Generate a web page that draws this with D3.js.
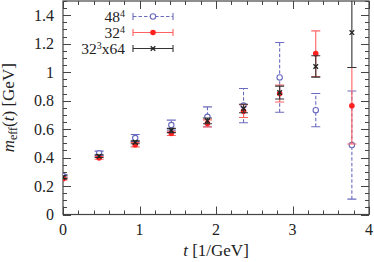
<!DOCTYPE html>
<html>
<head>
<meta charset="utf-8">
<script src="https://cdn.jsdelivr.net/npm/d3@7"></script>
<style>
  body { margin: 0; background: #fff; }
  svg text { font-family: "Liberation Serif", "DejaVu Serif", serif; fill: #222; }
</style>
</head>
<body>
<svg id="chart" width="374" height="262"></svg>
<script>
// data
const tVals = [0, 0.472, 0.944, 1.416, 1.888, 2.36, 2.832, 3.304, 3.776];

const v48 = [0.27, 0.43, 0.537, 0.628, 0.686, 0.765, 0.963, 0.733, 0.488];
const e48 = [0.01, 0.015, 0.025, 0.035, 0.07, 0.12, 0.245, 0.117, 0.38];

const v32 = [0.252, 0.398, 0.49, 0.57, 0.64, 0.726, 0.85, 1.13, 0.764];
const e32 = [0.01, 0.01, 0.015, 0.015, 0.025, 0.045, 0.06, 0.16, 0.269];

const v3264 = [0.262, 0.41, 0.507, 0.59, 0.658, 0.745, 0.857, 1.04, 1.278];
const e3264 = [0.01, 0.01, 0.01, 0.015, 0.02, 0.03, 0.045, 0.075, 0.245];

const xTicks = [0, 1, 2, 3, 4];
const yTicks = [0, 0.2, 0.4, 0.6, 0.8, 1, 1.2, 1.4];

const width = 374;
const height = 262;
const margin = { top: 1, right: 5, bottom: 47.5, left: 63 };

const svg = d3.select("#chart");

const x = d3.scaleLinear().domain([0, 4]).range([margin.left, width - margin.right]);
const y = d3.scaleLinear().domain([0, 1.5]).range([height - margin.bottom, margin.top]);

const series = [
  { name: "48", sup: "4", vals: v48, errs: e48, color: "#6b6bbf", dash: "3.5,2", marker: "open" },
  { name: "32", sup: "4", vals: v32, errs: e32, color: "#ff2020", bar: "#ff6060", dash: null, marker: "dot" },
  { name: "32", sup: "3", tail: "x64", vals: v3264, errs: e3264, color: "#222", bar: "#333", dash: null, marker: "cross" }
];

svg.append("clipPath").attr("id", "clip")
  .append("rect")
  .attr("x", margin.left).attr("y", margin.top)
  .attr("width", width - margin.left - margin.right)
  .attr("height", height - margin.top - margin.bottom);

// ticks (all four sides, inward)
const axisColor = "#444";
const gAx = svg.append("g").attr("stroke", axisColor).attr("stroke-width", 1);
const xMinor = d3.range(0, 4.001, 0.2);
const yMinor = d3.range(0, 1.5001, 0.05);
xMinor.forEach(v => {
  const major = Math.abs(v - Math.round(v)) < 1e-6;
  const len = major ? 8 : 4;
  const px = Math.round(x(v)) + 0.5;
  gAx.append("line").attr("x1", px).attr("x2", px).attr("y1", y(0)).attr("y2", y(0) - len);
  gAx.append("line").attr("x1", px).attr("x2", px).attr("y1", y(1.5)).attr("y2", y(1.5) + len);
});
yMinor.forEach(v => {
  const major = Math.abs(v * 5 - Math.round(v * 5)) < 1e-6;
  const len = major ? 8 : 4;
  const py = Math.round(y(v)) + 0.5;
  gAx.append("line").attr("x1", x(0)).attr("x2", x(0) + len).attr("y1", py).attr("y2", py);
  gAx.append("line").attr("x1", x(4)).attr("x2", x(4) - len).attr("y1", py).attr("y2", py);
});
svg.append("rect")
  .attr("x", x(0)).attr("y", y(1.5))
  .attr("width", x(4) - x(0)).attr("height", y(0) - y(1.5))
  .attr("fill", "none").attr("stroke", axisColor).attr("stroke-width", 1.2);

// tick labels
svg.append("g").selectAll("text").data(xTicks).join("text")
  .attr("x", d => x(d)).attr("y", 235)
  .attr("text-anchor", "middle").attr("font-size", 16)
  .text(d => d);
svg.append("g").selectAll("text").data(yTicks).join("text")
  .attr("x", 54).attr("y", d => y(d) + 5.5)
  .attr("text-anchor", "end").attr("font-size", 16)
  .text(d => d);

// axis titles
const xt = svg.append("text").attr("x", (x(0) + x(4)) / 2).attr("y", 256)
  .attr("text-anchor", "middle").attr("font-size", 17);
xt.append("tspan").attr("font-style", "italic").text("t");
xt.append("tspan").text(" [1/GeV]");

const yt = svg.append("text")
  .attr("transform", `translate(14,${y(0.75)}) rotate(-90)`)
  .attr("text-anchor", "middle").attr("font-size", 17);
yt.append("tspan").attr("font-style", "italic").text("m");
yt.append("tspan").attr("font-size", 12).attr("dy", 3).text("eff");
yt.append("tspan").attr("dy", -3).text("(");
yt.append("tspan").attr("font-style", "italic").text("t");
yt.append("tspan").text(") [GeV]");

// markers
function drawMarker(g, s, cx, cy) {
  if (s.marker === "open") {
    g.append("circle").attr("cx", cx).attr("cy", cy).attr("r", 2.7)
      .attr("fill", "#fff").attr("stroke", s.color).attr("stroke-width", 1.1);
  } else if (s.marker === "dot") {
    g.append("circle").attr("cx", cx).attr("cy", cy).attr("r", 2.8).attr("fill", s.color);
  } else {
    const r = 2.3;
    g.append("path")
      .attr("d", `M${cx - r},${cy - r}L${cx + r},${cy + r}M${cx - r},${cy + r}L${cx + r},${cy - r}`)
      .attr("stroke", s.color).attr("stroke-width", 1.3);
  }
}

const cap = 4.5;
const plot = svg.append("g").attr("clip-path", "url(#clip)");
series.forEach(s => {
  const g = plot.append("g");
  const barColor = s.bar || s.color;
  tVals.forEach((t, i) => {
    const cx = x(t);
    const lo = y(s.vals[i] - s.errs[i]);
    const hi = y(s.vals[i] + s.errs[i]);
    g.append("line").attr("x1", cx).attr("x2", cx).attr("y1", lo).attr("y2", hi)
      .attr("stroke", barColor).attr("stroke-width", 1.1)
      .attr("stroke-dasharray", s.dash);
    [lo, hi].forEach(yy => {
      g.append("line").attr("x1", cx - cap).attr("x2", cx + cap).attr("y1", yy).attr("y2", yy)
        .attr("stroke", barColor).attr("stroke-width", 1.1);
    });
    drawMarker(g, s, cx, y(s.vals[i]));
  });
});

// legend
const legRows = [16.5, 32.5, 48.5];
const lx1 = 133, lx2 = 173;
series.forEach((s, i) => {
  const g = svg.append("g");
  const ly = legRows[i];
  const barColor = s.bar || s.color;
  g.append("line").attr("x1", lx1).attr("x2", lx2).attr("y1", ly).attr("y2", ly)
    .attr("stroke", barColor).attr("stroke-width", 1.1).attr("stroke-dasharray", s.dash);
  [lx1, lx2].forEach(xx => {
    g.append("line").attr("x1", xx).attr("x2", xx).attr("y1", ly - 3.5).attr("y2", ly + 3.5)
      .attr("stroke", barColor).attr("stroke-width", 1.1);
  });
  drawMarker(g, s, (lx1 + lx2) / 2, ly);
  const t = g.append("text").attr("x", 125).attr("y", ly + 5.5)
    .attr("text-anchor", "end").attr("font-size", 15.5);
  t.append("tspan").text(s.name);
  t.append("tspan").attr("font-size", 10).attr("dy", -5.5).text(s.sup);
  if (s.tail) t.append("tspan").attr("dy", 5.5).text(s.tail);
});
</script>
</body>
</html>
